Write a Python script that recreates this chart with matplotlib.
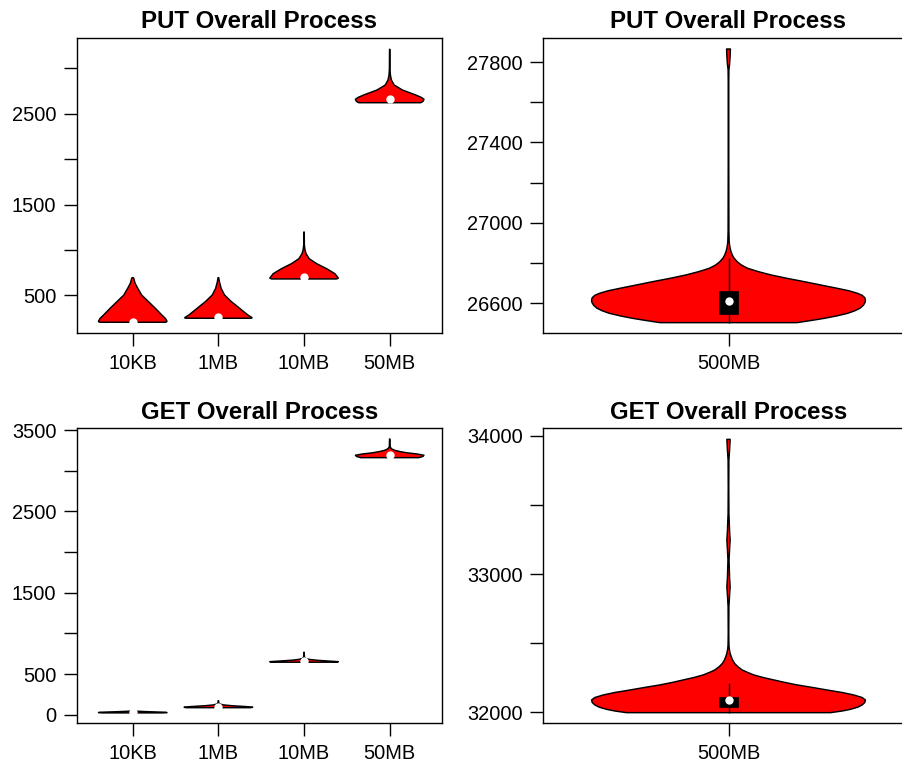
import matplotlib
matplotlib.use("Agg")
import matplotlib.pyplot as plt
from matplotlib.patches import Rectangle, Polygon
import numpy as np

plt.rcParams['font.family'] = ['Liberation Sans', 'DejaVu Sans']

# ---------------- data ----------------
small_labels = ["10KB", "1MB", "10MB", "50MB"]
big_labels = ["500MB"]

# PUT, small objects: density profiles (value, relative half-width)
put_10kb_y = [203, 208, 215, 247, 283, 357, 430, 503, 577, 632, 687, 694]
put_10kb_w = [0.96, 0.99, 1.0, 0.95, 0.85, 0.66, 0.46, 0.26, 0.147, 0.07, 0.03, 0.02]
put_1mb_y = [247, 251, 255, 283, 357, 430, 503, 577, 650, 694]
put_1mb_w = [0.95, 0.98, 0.98, 0.86, 0.62, 0.38, 0.18, 0.08, 0.03, 0.01]
put_10mb_y = [680, 685, 690, 738, 793, 848, 903, 958, 996, 1050, 1197]
put_10mb_w = [0.94, 0.98, 1.0, 0.9, 0.66, 0.37, 0.15, 0.06, 0.03, 0.01, 0.005]
put_50mb_y = [2621, 2630, 2640, 2659, 2680, 2706, 2761, 2816, 2871, 2926, 3000, 3209]
put_50mb_w = [0.9, 0.95, 0.98, 1.0, 0.92, 0.76, 0.37, 0.13, 0.05, 0.02, 0.008, 0.005]
put_small_min = [203, 247, 680, 2621]
put_small_q1 = [203, 250, 690, 2645]
put_small_med = [205, 258, 701, 2659]
put_small_q3 = [212, 266, 712, 2672]
put_small_hi = [232, 285, 730, 2690]

# PUT, 500MB
put_500mb_y = [26503.6, 26515, 26525, 26537, 26550, 26562, 26575, 26590, 26605,
               26616, 26628, 26640, 26650, 26662, 26675, 26690, 26708, 26725,
               26741, 26757, 26774, 26790, 26807, 26825, 26841, 26858, 26874,
               26890, 26907, 26960, 27300, 27700, 27762, 27790, 27830, 27865]
put_500mb_w = [0.50, 0.61, 0.70, 0.79, 0.87, 0.92, 0.96, 0.985, 0.998,
               1.0, 0.995, 0.975, 0.94, 0.88, 0.79, 0.68, 0.55, 0.42,
               0.31, 0.22, 0.14, 0.095, 0.063, 0.04, 0.027, 0.018, 0.012,
               0.008, 0.005, 0.003, 0.002, 0.002, 0.003, 0.008, 0.012, 0.014]
put_big_min = [26503.6]
put_big_q1 = [26547]
put_big_med = [26613]
put_big_q3 = [26661]
put_big_hi = [26824]

# GET, small objects
get_10kb_y = [22, 26, 30, 36, 42, 48]
get_10kb_w = [0.9, 1.0, 0.95, 0.5, 0.15, 0.02]
get_1mb_y = [86, 92, 100, 110, 120, 130, 140, 172]
get_1mb_w = [0.95, 1.0, 0.8, 0.4, 0.15, 0.05, 0.015, 0.005]
get_10mb_y = [645, 652, 660, 670, 680, 690, 700, 720, 767]
get_10mb_w = [0.97, 1.0, 0.7, 0.35, 0.15, 0.06, 0.02, 0.01, 0.005]
get_50mb_y = [3160, 3175, 3190, 3205, 3220, 3235, 3250, 3265, 3280, 3300, 3390]
get_50mb_w = [0.85, 0.97, 1.0, 0.8, 0.5, 0.3, 0.15, 0.07, 0.03, 0.01, 0.005]
get_small_min = [22, 86, 645, 3160]
get_small_q1 = [26, 90, 652, 3180]
get_small_med = [30, 98, 665, 3193]
get_small_q3 = [35, 108, 680, 3205]
get_small_hi = [45, 130, 700, 3225]

# GET, 500MB
get_500mb_y = [31997, 32009, 32021, 32037, 32053, 32070, 32089, 32107, 32125,
               32143, 32161, 32180, 32198, 32216, 32234, 32252, 32270, 32288,
               32306, 32330, 32354, 32378, 32402, 32426, 32451, 32475, 32499,
               32572, 32764, 32850, 32909, 32970, 33102, 33180, 33247, 33310,
               33440, 33632, 33826, 33899, 33975]
get_500mb_w = [0.745, 0.83, 0.89, 0.945, 0.976, 0.995, 1.0, 0.975, 0.915,
               0.83, 0.72, 0.61, 0.50, 0.41, 0.33, 0.25, 0.185, 0.14,
               0.10, 0.068, 0.044, 0.03, 0.02, 0.012, 0.007, 0.004, 0.003,
               0.002, 0.003, 0.008, 0.012, 0.008, 0.004, 0.008, 0.012, 0.008,
               0.003, 0.002, 0.003, 0.008, 0.012]
get_big_min = [31997]
get_big_q1 = [32041]
get_big_med = [32089]
get_big_q3 = [32113]
get_big_hi = [32210]

# ---------------- drawing ----------------
W, H = 903, 763
fig = plt.figure(figsize=(W / 100, H / 100), dpi=100)

TITLE_FS = 17.3
TICK_FS = 14.4
HALF = 0.4
BOXHALF = 0.027


def px_axes(l, t, r, b):
    return fig.add_axes([l / W, 1 - b / H, (r - l) / W, (b - t) / H])


def draw_violins(ax, profiles, mins, q1s, meds, q3s, his):
    for i, (ys, ws) in enumerate(profiles):
        at = i + 1
        ys = np.asarray(ys, float)
        ws = np.asarray(ws, float) * HALF
        xs = np.concatenate([at - ws, (at + ws)[::-1]])
        yy = np.concatenate([ys, ys[::-1]])
        ax.add_patch(Polygon(np.column_stack([xs, yy]), closed=True,
                             facecolor='#ff0000', edgecolor='black', lw=1.05,
                             joinstyle='round', zorder=2))
        ax.plot([at, at], [mins[i], his[i]], color='black', lw=1.0, zorder=3,
                solid_capstyle='butt')
        ax.add_patch(Rectangle((at - BOXHALF, q1s[i]), 2 * BOXHALF, q3s[i] - q1s[i],
                               facecolor='black', edgecolor='black', lw=0.5, zorder=4))
        ax.plot([at], [meds[i]], 'o', color='white', markersize=6.0,
                markeredgewidth=0, zorder=5)


def style(ax, title, labels, xlim, ylim, ticks, shown):
    ax.set_xlim(*xlim)
    ax.set_ylim(*ylim)
    ax.set_xticks(range(1, len(labels) + 1))
    ax.set_xticklabels(labels)
    ax.set_yticks(ticks)
    ax.set_yticklabels([str(t) if t in shown else '' for t in ticks])
    ax.tick_params(axis='both', direction='out', length=9.6, width=1.0,
                   labelsize=TICK_FS, pad=5, color='black')
    for s in ax.spines.values():
        s.set_linewidth(1.0)
        s.set_color('black')
    ax.set_title(title, fontsize=TITLE_FS, fontweight='bold', pad=7)


# top-left
ax1 = px_axes(76.7, 38.0, 441.7, 333.3)
draw_violins(ax1, [(put_10kb_y, put_10kb_w), (put_1mb_y, put_1mb_w),
                   (put_10mb_y, put_10mb_w), (put_50mb_y, put_50mb_w)],
             put_small_min, put_small_q1, put_small_med, put_small_q3, put_small_hi)
style(ax1, "PUT Overall Process", small_labels, (0.346, 4.607), (81.5, 3333.7),
      [500, 1000, 1500, 2000, 2500, 3000], [500, 1500, 2500])

# top-right
ax2 = px_axes(543.3, 38.0, 913.7, 333.3)
draw_violins(ax2, [(put_500mb_y, put_500mb_w)],
             put_big_min, put_big_q1, put_big_med, put_big_q3, put_big_hi)
style(ax2, "PUT Overall Process", big_labels, (0.459, 1.541), (26450.6, 27919.7),
      [26600, 26800, 27000, 27200, 27400, 27600, 27800], [26600, 27000, 27400, 27800])

# bottom-left
ax3 = px_axes(76.7, 428.3, 441.7, 723.3)
draw_violins(ax3, [(get_10kb_y, get_10kb_w), (get_1mb_y, get_1mb_w),
                   (get_10mb_y, get_10mb_w), (get_50mb_y, get_50mb_w)],
             get_small_min, get_small_q1, get_small_med, get_small_q3, get_small_hi)
style(ax3, "GET Overall Process", small_labels, (0.346, 4.607), (-106, 3521),
      [0, 500, 1000, 1500, 2000, 2500, 3000, 3500], [0, 500, 1500, 2500, 3500])

# bottom-right
ax4 = px_axes(543.3, 428.3, 913.7, 723.3)
draw_violins(ax4, [(get_500mb_y, get_500mb_w)],
             get_big_min, get_big_q1, get_big_med, get_big_q3, get_big_hi)
style(ax4, "GET Overall Process", big_labels, (0.459, 1.541), (31920, 34055),
      [32000, 32500, 33000, 33500, 34000], [32000, 33000, 34000])

fig.savefig("out.png", dpi=100)
